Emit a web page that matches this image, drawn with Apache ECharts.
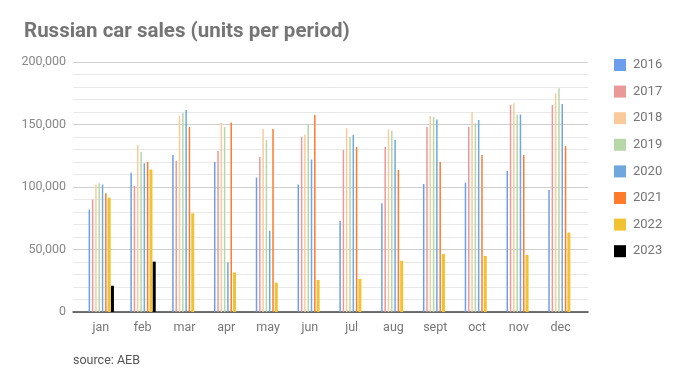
<!DOCTYPE html>
<html>
<head>
<meta charset="utf-8">
<script src="https://cdn.jsdelivr.net/npm/echarts@6/dist/echarts.min.js"></script>
<style>
html,body{margin:0;padding:0;background:#fff;}
#chart{width:680px;height:385px;}
</style>
</head>
<body>
<div id="chart"></div>
<script>
const categories = ['jan','feb','mar','apr','may','jun','jul','aug','sept','oct','nov','dec'];
const years = ['2016','2017','2018','2019','2020','2021','2022','2023'];
const s2016 = [82000, 111500, 125600, 120000, 107500, 102000, 72800, 87000, 102400, 103500, 112800, 97600];
const s2017 = [90000, 100800, 121000, 128800, 124000, 140000, 129600, 132000, 148000, 148000, 165600, 165600];
const s2018 = [102000, 133600, 156800, 151500, 146400, 142000, 147000, 146000, 156800, 160000, 167000, 175000];
const s2019 = [103000, 128000, 159500, 148000, 137600, 150000, 140000, 145000, 156000, 151000, 158000, 179000];
const s2020 = [102000, 119000, 161600, 39700, 65000, 122000, 141600, 137600, 154000, 153600, 158000, 166400];
const s2021 = [95000, 120000, 148000, 151700, 146400, 157600, 132000, 113600, 120000, 125600, 125600, 132800];
const s2022 = [91500, 114000, 79000, 31700, 23500, 25600, 26400, 41000, 46400, 44800, 45600, 63500];
const s2023 = [21000, 40300, null, null, null, null, null, null, null, null, null, null];
const yTicks = [0, 50000, 100000, 150000, 200000];

const colors = ['#6d9eeb','#ea9999','#f9cb9c','#b6d7a8','#6fa8dc','#ff7b2c','#f1c232','#000000'];
const seriesData = [s2016, s2017, s2018, s2019, s2020, s2021, s2022, s2023];
const fmt = v => String(v).replace(/\B(?=(\d{3})+(?!\d))/g, ',');

const series = [];
// thin bars (2016-2021) on x axis 1, with two placeholder slots
for (let i = 0; i < 6; i++) {
  series.push({name: years[i], type: 'bar', xAxisIndex: 1, yAxisIndex: 1,
    barWidth: 1.5, barGap: '120%', data: seriesData[i],
    itemStyle: {color: colors[i]}, emphasis: {disabled: true}});
}
for (let i = 0; i < 2; i++) {
  series.push({name: '_pa' + i, type: 'bar', xAxisIndex: 1, yAxisIndex: 1,
    barWidth: 1.5, barGap: '120%', data: []});
}
// wide bars (2022, 2023) on x axis 2, with six placeholder slots
for (let i = 0; i < 6; i++) {
  series.push({name: '_pb' + i, type: 'bar', xAxisIndex: 2, yAxisIndex: 1,
    barWidth: 3, barGap: '10%', data: []});
}
for (let i = 6; i < 8; i++) {
  series.push({name: years[i], type: 'bar', xAxisIndex: 2, yAxisIndex: 1,
    barWidth: 3, barGap: '10%', data: seriesData[i],
    itemStyle: {color: colors[i]}, emphasis: {disabled: true}});
}

const chart = echarts.init(document.getElementById('chart'), null, {renderer: 'canvas'});
chart.setOption({
  animation: false,
  backgroundColor: '#ffffff',
  textStyle: {fontFamily: 'Roboto'},
  title: {
    text: 'Russian car sales (units per period)',
    left: 19, top: 16,
    textStyle: {fontFamily: 'Roboto', fontSize: 20.5, fontWeight: 'bold', color: '#757575'}
  },
  legend: {
    orient: 'vertical', left: 609, top: 53.5,
    data: years.map((y, i) => ({name: y, itemStyle: {color: colors[i]}})),
    icon: 'rect', itemWidth: 12, itemHeight: 12, itemGap: 13.6,
    textStyle: {fontFamily: 'Roboto', fontSize: 13, color: '#757575', padding: [0,0,0,2]},
    selectedMode: false
  },
  graphic: [{
    type: 'text', left: 73, top: 354,
    style: {text: 'source: AEB', font: '12.5px Roboto', fill: '#555555'}
  }],
  grid: [
    {left: 73, right: 92, top: 62, bottom: 73},
    {left: 80, right: 98.5, top: 62, bottom: 73}
  ],
  xAxis: [
    {type: 'category', gridIndex: 0, data: [''], axisLabel: {show: false}, axisTick: {show: false},
      axisLine: {show: true, lineStyle: {color: '#444444', width: 1.5}}},
    {type: 'category', gridIndex: 1, data: categories,
      axisLine: {show: false}, axisTick: {show: false},
      axisLabel: {fontFamily: 'Roboto', fontSize: 12.5, color: '#777777', margin: 9}},
    {type: 'category', gridIndex: 1, data: categories, show: false}
  ],
  yAxis: [
    {type: 'value', gridIndex: 0, min: yTicks[0], max: yTicks[yTicks.length - 1], interval: yTicks[1] - yTicks[0],
      axisLine: {show: false}, axisTick: {show: false},
      axisLabel: {fontFamily: 'Roboto', fontSize: 12.5, color: '#888888', margin: 7, formatter: fmt},
      splitLine: {lineStyle: {color: '#cfcfcf', width: 1}},
      minorTick: {show: false, splitNumber: 5},
      minorSplitLine: {show: true, lineStyle: {color: '#e8e8e8', width: 1}}},
    {type: 'value', gridIndex: 1, min: yTicks[0], max: yTicks[yTicks.length - 1], show: false,
      splitLine: {show: false}}
  ],
  series: series
});
</script>
</body>
</html>
